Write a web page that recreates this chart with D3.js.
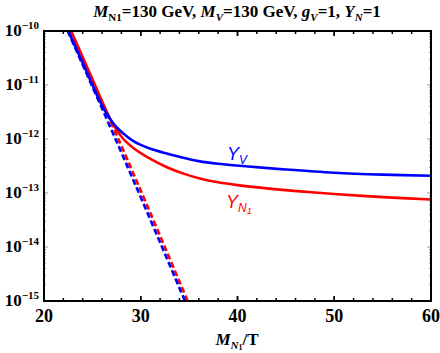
<!DOCTYPE html>
<html>
<head>
<meta charset="utf-8">
<script src="https://cdn.jsdelivr.net/npm/d3@7"></script>
<style>
  body { margin: 0; background: #fff; }
  text { font-family: "Liberation Serif", serif; font-weight: bold; }
</style>
</head>
<body>
<div class="chart"></div>
<script>
// curves (x = M_N1/T, y = abundance)
var blueX  = [22.5, 24, 25.8, 26.4, 27, 27.5, 28.2, 29, 30, 31, 32.5, 34, 36, 38, 40.5, 45, 50, 55, 60];
var blueY  = [1e-10, 2.57e-11, 4.9e-12, 3.09e-12, 2.14e-12, 1.66e-12, 1.26e-12, 9.77e-13, 7.76e-13, 6.61e-13,
              5.5e-13, 4.68e-13, 3.89e-13, 3.47e-13, 3.16e-13, 2.72e-13, 2.37e-13, 2.19e-13, 2.09e-13];
var redX   = [22.8, 25, 26, 26.8, 27.5, 28.2, 29.2, 31, 32.7, 34.5, 36.1, 38, 40, 43, 46.5, 50, 55, 60];
var redY   = [1e-10, 1.29e-11, 5.0e-12, 2.45e-12, 1.48e-12, 1.0e-12, 6.9e-13, 4.27e-13, 3.0e-13, 2.26e-13,
              1.86e-13, 1.58e-13, 1.4e-13, 1.22e-13, 1.07e-13, 9.6e-14, 8.4e-14, 7.6e-14];
var blueEqX = [22.45, 28.5, 34.57];
var blueEqY = [1e-10, 3.5e-13, 1e-15];
var redEqX  = [22.75, 28.8, 34.85];
var redEqY  = [1e-10, 3.5e-13, 1e-15];

var xTicks = [20, 30, 40, 50, 60];
var yTicks = [-10, -11, -12, -13, -14, -15];

var svg = d3.select('.chart')
    .append('svg')
    .attr('width', 440)
    .attr('height', 353);

var x = d3.scaleLinear().domain([20, 60]).range([44, 431]);
var y = d3.scaleLog().domain([1e-15, 1e-10]).range([301, 31]);

svg.append('clipPath').attr('id', 'clip')
  .append('rect')
    .attr('x', x(20)).attr('y', y(1e-10))
    .attr('width', x(60) - x(20)).attr('height', y(1e-15) - y(1e-10));

// ticks: top/bottom black, left/right grey
var minorX = d3.range(22, 60, 2);
function xTicksAt(yy, dir) {
  minorX.concat(xTicks).forEach(function(v) {
    var len = (v % 10 === 0) ? 5 : 3;
    svg.append('line')
        .attr('x1', x(v)).attr('x2', x(v))
        .attr('y1', yy).attr('y2', yy + dir * len)
        .attr('stroke', '#000').attr('stroke-width', 1.5);
  });
}
xTicksAt(y(1e-10), 1);
xTicksAt(y(1e-15), -1);

var minorY = [];
for (var e = -15; e < -10; e++) {
  for (var m = 1; m < 10; m++) minorY.push({v: m * Math.pow(10, e), major: m === 1});
}
minorY.push({v: 1e-10, major: true});
minorY.forEach(function(t) {
  var len = t.major ? 4 : 2;
  [[x(20), 1], [x(60), -1]].forEach(function(s) {
    svg.append('line')
        .attr('x1', s[0]).attr('x2', s[0] + s[1] * len)
        .attr('y1', y(t.v)).attr('y2', y(t.v))
        .attr('stroke', '#999').attr('stroke-width', 1);
  });
});

var line = d3.line()
    .x(function(d) { return x(d[0]); })
    .y(function(d) { return y(d[1]); })
    .curve(d3.curveCatmullRom.alpha(0.5));

function drawCurve(xs, ys, color, dash) {
  svg.append('path')
      .datum(d3.zip(xs, ys))
      .attr('clip-path', 'url(#clip)')
      .attr('fill', 'none')
      .attr('stroke', color)
      .attr('stroke-width', 2.6)
      .attr('stroke-dasharray', dash ? '6,3' : null)
      .attr('d', line);
}
drawCurve(redEqX, redEqY, '#ff0000', true);
drawCurve(blueEqX, blueEqY, '#0000ff', true);
drawCurve(redX, redY, '#ff0000', false);
drawCurve(blueX, blueY, '#0000ff', false);

// frame
svg.append('rect')
    .attr('x', x(20)).attr('y', y(1e-10))
    .attr('width', x(60) - x(20)).attr('height', y(1e-15) - y(1e-10))
    .attr('fill', 'none').attr('stroke', '#000').attr('stroke-width', 2);

// tick labels
xTicks.forEach(function(v) {
  svg.append('text')
      .attr('x', x(v)).attr('y', 322)
      .attr('text-anchor', 'middle')
      .attr('font-size', 18)
      .text(v);
});
yTicks.forEach(function(p) {
  var t = svg.append('text')
      .attr('x', 39).attr('y', y(Math.pow(10, p)) + 5)
      .attr('text-anchor', 'end')
      .attr('font-size', 17);
  t.append('tspan').text('10');
  t.append('tspan').attr('font-size', 11).attr('dy', -7).text('\u2212' + (-p));
});

// title
var title = svg.append('text')
    .attr('x', 237).attr('y', 17)
    .attr('text-anchor', 'middle')
    .attr('font-size', 17);
function part(txt, opts) {
  var s = title.append('tspan').text(txt);
  if (opts && opts.it) s.attr('font-style', 'italic');
  if (opts && opts.sub) s.attr('font-size', 11).attr('dy', opts.sub);
  return s;
}
part('M', {it: 1}); part('N1', {sub: 4}); part('=130 GeV, ', {sub: -4}).attr('font-size', 17);
part('M', {it: 1}); part('V', {it: 1, sub: 4}); part('=130 GeV, ', {sub: -4}).attr('font-size', 17);
part('g', {it: 1}); part('V', {it: 1, sub: 4}); part('=1, ', {sub: -4}).attr('font-size', 17);
part('Y', {it: 1}); part('N', {it: 1, sub: 4}); part('=1', {sub: -4}).attr('font-size', 17);

// x axis title
var xl = svg.append('text')
    .attr('x', 237).attr('y', 345)
    .attr('text-anchor', 'middle')
    .attr('font-size', 17);
xl.append('tspan').attr('font-style', 'italic').text('M');
xl.append('tspan').attr('font-style', 'italic').attr('font-size', 11).attr('dy', 4).text('N');
xl.append('tspan').attr('font-size', 8).attr('dy', 1).text('1');
xl.append('tspan').attr('dy', -5).text('/T');

// curve labels
function curveLabel(px, py, color, sub, subsub) {
  var t = svg.append('text')
      .attr('x', px).attr('y', py)
      .attr('fill', color)
      .style('font-family', '"Liberation Sans", sans-serif')
      .style('font-weight', 'normal')
      .style('font-style', 'italic')
      .attr('font-size', 18);
  t.append('tspan').text('Y');
  t.append('tspan').attr('font-size', 12).attr('dy', 4).text(sub);
  if (subsub) t.append('tspan').attr('font-size', 9).attr('dy', 2).text(subsub);
}
curveLabel(227, 160, '#0000ff', 'V');
curveLabel(226, 208, '#ff0000', 'N', '1');
</script>
</body>
</html>
